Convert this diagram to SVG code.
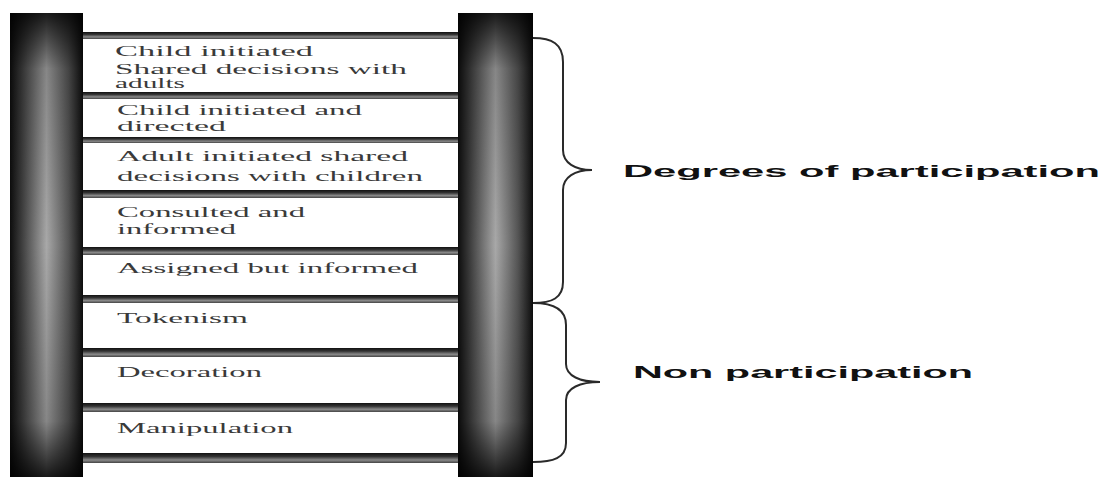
<svg xmlns="http://www.w3.org/2000/svg" width="1109" height="480" viewBox="0 0 1109 480">
  <defs>
    <!-- cylindrical shading for the ladder rails -->
    <linearGradient id="railShade" x1="0" y1="0" x2="1" y2="0">
      <stop offset="0" stop-color="#0d0d0d"/>
      <stop offset="0.15" stop-color="#3a3a3a"/>
      <stop offset="0.5" stop-color="#a8a8a8"/>
      <stop offset="0.8" stop-color="#555"/>
      <stop offset="1" stop-color="#0d0d0d"/>
    </linearGradient>
    <linearGradient id="railEnds" x1="0" y1="0" x2="0" y2="1">
      <stop offset="0" stop-color="#000" stop-opacity="0.85"/>
      <stop offset="0.12" stop-color="#000" stop-opacity="0.2"/>
      <stop offset="0.5" stop-color="#000" stop-opacity="0"/>
      <stop offset="0.88" stop-color="#000" stop-opacity="0.2"/>
      <stop offset="1" stop-color="#000" stop-opacity="0.85"/>
    </linearGradient>
    <!-- rung shading: dark upper edge, lighter body -->
    <linearGradient id="rungShade" x1="0" y1="0" x2="0" y2="1">
      <stop offset="0" stop-color="#111"/>
      <stop offset="0.35" stop-color="#333"/>
      <stop offset="0.7" stop-color="#8a8a8a"/>
      <stop offset="1" stop-color="#444"/>
    </linearGradient>
    <linearGradient id="rungFade" x1="0" y1="0" x2="1" y2="0">
      <stop offset="0" stop-color="#000" stop-opacity="0.5"/>
      <stop offset="0.2" stop-color="#000" stop-opacity="0"/>
      <stop offset="0.9" stop-color="#000" stop-opacity="0"/>
      <stop offset="1" stop-color="#000" stop-opacity="0.5"/>
    </linearGradient>
  </defs>
  <style>
    .step { font-family: "Liberation Serif", "Times New Roman", serif; font-size: 15px; fill: #3a3a3a; }
    .group { font-family: "Liberation Sans", Arial, sans-serif; font-size: 17px; font-weight: bold; fill: #111; }
    .brace { fill: none; stroke: #2a2a2a; stroke-width: 2; }
    .rung { fill: url(#rungShade); }
  </style>

  <rect width="1109" height="480" fill="#fff"/>

  <!-- ladder frame -->
  <g id="ladder">
    <rect x="83" y="38" width="375" height="417" fill="#fff"/>
    <g id="rungs">
      <rect class="rung" x="83" y="32" width="375" height="7"/>
      <rect class="rung" x="83" y="92" width="375" height="7"/>
      <rect class="rung" x="83" y="137" width="375" height="6"/>
      <rect class="rung" x="83" y="190" width="375" height="8"/>
      <rect class="rung" x="68" y="247" width="390" height="8"/>
      <rect class="rung" x="83" y="295" width="375" height="8"/>
      <rect class="rung" x="83" y="348" width="375" height="9"/>
      <rect class="rung" x="83" y="403" width="375" height="9"/>
      <rect class="rung" x="83" y="453" width="375" height="10"/>
      <rect x="83" y="32" width="375" height="431" fill="url(#rungFade)" opacity="0.0"/>
    </g>
    <g id="rail-left">
      <rect x="10" y="13" width="73" height="464" fill="url(#railShade)"/>
      <rect x="10" y="13" width="73" height="464" fill="url(#railEnds)"/>
    </g>
    <g id="rail-right">
      <rect x="458" y="13" width="75" height="464" fill="url(#railShade)"/>
      <rect x="458" y="13" width="75" height="464" fill="url(#railEnds)"/>
    </g>
  </g>

  <!-- ladder steps, top to bottom -->
  <g id="step-child-initiated-shared">
    <text class="step" x="115" y="56" textLength="198" lengthAdjust="spacingAndGlyphs">Child initiated</text>
    <text class="step" x="115" y="74" textLength="292" lengthAdjust="spacingAndGlyphs">Shared decisions with</text>
    <text class="step" x="115" y="88" textLength="70" lengthAdjust="spacingAndGlyphs">adults</text>
  </g>
  <g id="step-child-initiated-directed">
    <text class="step" x="117" y="115" textLength="245" lengthAdjust="spacingAndGlyphs">Child initiated and</text>
    <text class="step" x="117" y="131" textLength="109" lengthAdjust="spacingAndGlyphs">directed</text>
  </g>
  <g id="step-adult-initiated-shared">
    <text class="step" x="117" y="161" textLength="291" lengthAdjust="spacingAndGlyphs">Adult initiated shared</text>
    <text class="step" x="117" y="181" textLength="306" lengthAdjust="spacingAndGlyphs">decisions with children</text>
  </g>
  <g id="step-consulted-informed">
    <text class="step" x="117" y="217" textLength="188" lengthAdjust="spacingAndGlyphs">Consulted and</text>
    <text class="step" x="117" y="234" textLength="119" lengthAdjust="spacingAndGlyphs">informed</text>
  </g>
  <g id="step-assigned-informed">
    <text class="step" x="117" y="273" textLength="301" lengthAdjust="spacingAndGlyphs">Assigned but informed</text>
  </g>
  <g id="step-tokenism">
    <text class="step" x="117" y="323" textLength="131" lengthAdjust="spacingAndGlyphs">Tokenism</text>
  </g>
  <g id="step-decoration">
    <text class="step" x="117" y="377" textLength="145" lengthAdjust="spacingAndGlyphs">Decoration</text>
  </g>
  <g id="step-manipulation">
    <text class="step" x="117" y="433" textLength="176" lengthAdjust="spacingAndGlyphs">Manipulation</text>
  </g>

  <!-- grouping braces -->
  <g id="connectors">
    <path class="brace" d="M533,38 C552,38 563,44 563,62 L563,150 C563,163 575,170 592,170 C575,170 563,177 563,190 L563,282 C563,298 552,303 533,303"/>
    <path class="brace" d="M533,303 C553,303 566,309 566,325 L566,364 C566,376 580,382 600,382 C580,382 566,388 566,400 L566,443 C566,458 553,462 533,462"/>
  </g>

  <g id="label-degrees">
    <text class="group" x="623" y="177" textLength="477" lengthAdjust="spacingAndGlyphs">Degrees of participation</text>
  </g>
  <g id="label-non">
    <text class="group" x="633" y="378" textLength="340" lengthAdjust="spacingAndGlyphs">Non participation</text>
  </g>
</svg>
